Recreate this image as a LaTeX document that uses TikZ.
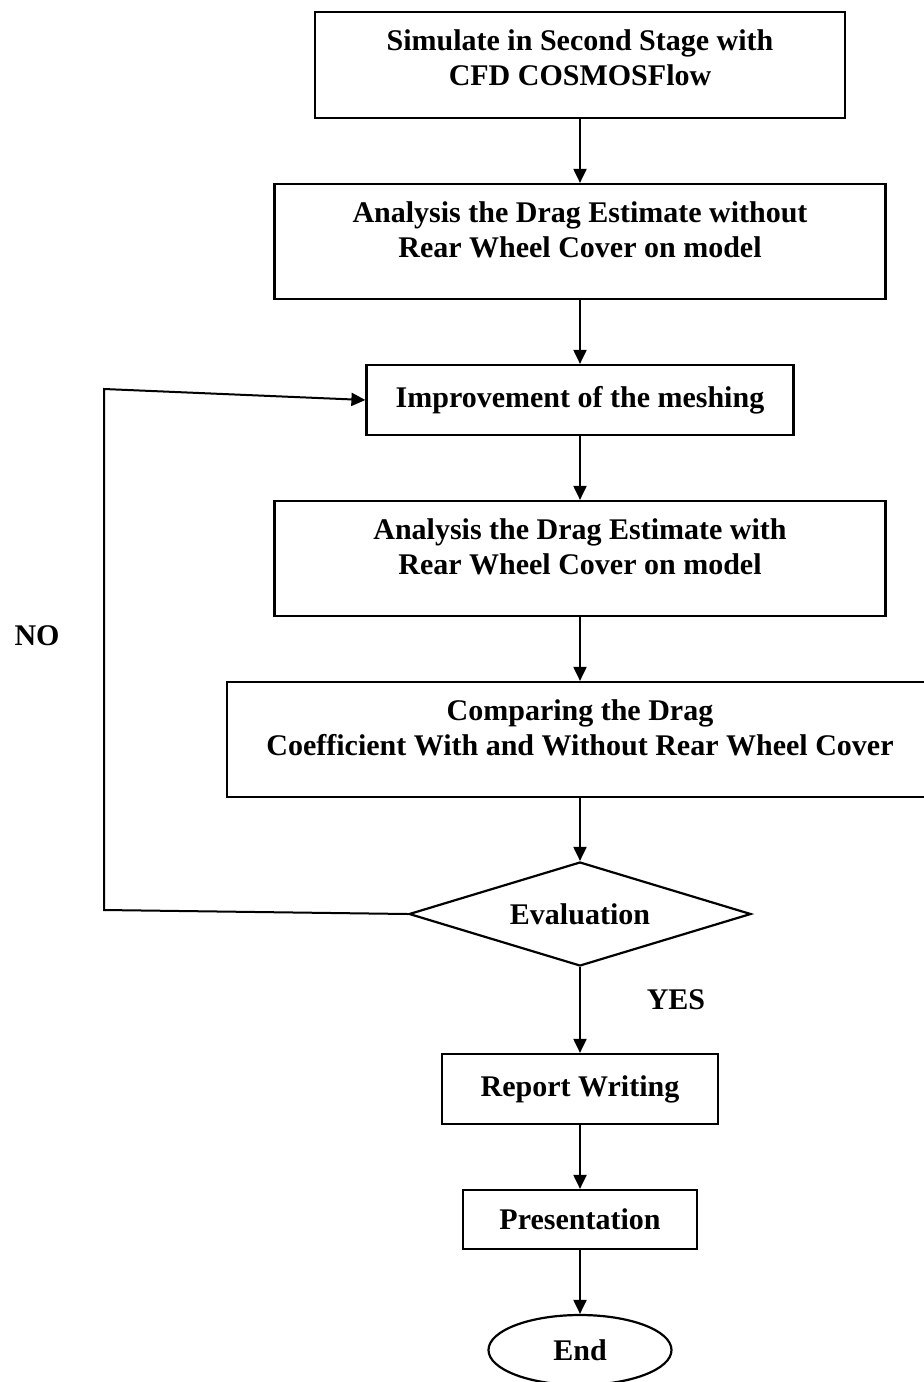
\documentclass[tikz,border=0pt]{standalone}
\usepackage{fontspec}
\setmainfont{Liberation Serif}
\usepackage{tikz}
\usetikzlibrary{shapes,arrows.meta,positioning}

\begin{document}
\begin{tikzpicture}[x=1pt, y=-1pt, font=\fontsize{30}{35}\selectfont\bfseries,
  box/.style={draw, rectangle, line width=2.2pt, align=center},
  tallbox/.style={box, minimum height=115pt, text depth=24pt},
  flow/.style={line width=2pt, -{Triangle[length=14pt,width=13pt]}}]
\useasboundingbox (0,0) rectangle (924,1382);
\node[box, minimum width=530pt, minimum height=106pt, text depth=15pt] (sim) at (580,65) {Simulate in Second Stage with\\ CFD COSMOSFlow};
\node[tallbox, minimum width=611pt, below of=sim, node distance=176.5pt] (nocover) {Analysis the Drag Estimate without\\ Rear Wheel Cover on model};
\node[box, minimum width=427pt, minimum height=70pt, below of=nocover, node distance=158.5pt] (mesh) {Improvement of the meshing};
\node[tallbox, minimum width=611pt, below of=mesh, node distance=158.5pt] (cover) {Analysis the Drag Estimate with\\ Rear Wheel Cover on model};
\node[tallbox, minimum width=706pt, below of=cover, node distance=181pt] (comp) {Comparing the Drag\\ Coefficient With and Without Rear Wheel Cover};
\node[draw, diamond, line width=2.2pt, aspect=3.3, inner sep=0pt, minimum width=342pt, minimum height=104pt, below of=comp, node distance=174.5pt] (eval) {Evaluation};
\node[box, minimum width=276pt, minimum height=70pt, below of=eval, node distance=175pt] (report) {Report Writing};
\node[box, minimum width=234pt, minimum height=59pt, below of=report, node distance=130.5pt] (pres) {Presentation};
\node[draw, ellipse, line width=2.2pt, minimum width=183pt, minimum height=70pt, below of=pres, node distance=130.5pt] (stop) {End};

\draw[flow] (sim) -- (nocover);
\draw[flow] (nocover) -- (mesh);
\draw[flow] (mesh) -- (cover);
\draw[flow] (cover) -- (comp);
\draw[flow] (comp) -- (eval);
\draw[flow] (eval) -- (report);
\draw[flow] (report) -- (pres);
\draw[flow] (pres) -- (stop);

% NO loop back to the meshing
\coordinate (lowleft) at (104,910);
\coordinate (upleft) at (104,389);
\draw[flow] (eval.west) -- (lowleft) -- (upleft) -- (mesh.west);
\node (no) at (37,636) {NO};
\node (yes) at (676,1000) {YES};
\end{tikzpicture}
\end{document}
